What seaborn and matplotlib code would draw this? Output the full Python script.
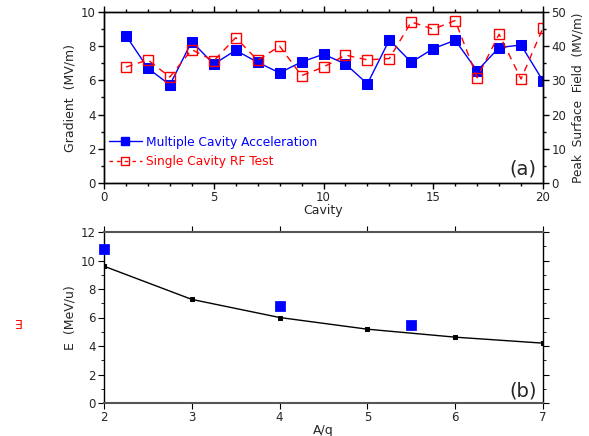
import numpy as np
import pandas as pd
import matplotlib
matplotlib.use("Agg")
import matplotlib.pyplot as plt
import seaborn as sns
from matplotlib.ticker import MultipleLocator
from matplotlib.lines import Line2D

cavity = list(range(1, 21))
gradient_multi = [8.62, 6.71, 5.74, 8.27, 6.95, 7.76, 7.06, 6.44, 7.08, 7.53,
                  6.96, 5.80, 8.37, 7.06, 7.86, 8.35, 6.56, 7.92, 8.07, 5.97]
peak_field_single = [33.9, 36.0, 31.0, 39.0, 35.7, 42.5, 35.9, 40.0, 31.4, 33.9,
                     37.4, 36.0, 36.4, 47.1, 45.0, 47.5, 30.8, 43.5, 30.4, 45.4]

aq_curve = [2, 3, 4, 5, 6, 7]
e_curve = [9.6, 7.27, 6.0, 5.18, 4.62, 4.2]
aq_meas = [2, 4, 5.5]
e_meas = [10.8, 6.8, 5.5]

sns.set_style("ticks")
plt.rcParams['font.family'] = ['DejaVu Sans']
plt.rcParams['font.size'] = 9
plt.rcParams['xtick.labelsize'] = 8.5
plt.rcParams['ytick.labelsize'] = 8.5

fig = plt.figure(figsize=(5.89, 4.36), dpi=100)
L, W, H = 104/589, 439/589, 171/436
ax = fig.add_axes([L, 1-183/436, W, H])
ax2 = ax.twinx()
bx = fig.add_axes([L, 1-403/436, W, H])

df1 = pd.DataFrame({"cavity": cavity, "g": gradient_multi, "p": peak_field_single})
sns.lineplot(data=df1, x="cavity", y="g", ax=ax, color="blue", lw=1,
             marker="s", markersize=7, markeredgecolor="blue", markerfacecolor="blue")
sns.lineplot(data=df1, x="cavity", y="p", ax=ax2, color="red", lw=1,
             marker="s", markersize=7, markeredgecolor="red", markerfacecolor="none",
             markeredgewidth=1, linestyle=(0, (5, 4)))

ax.set_xlim(0, 20)
ax.set_ylim(0, 10)
ax2.set_ylim(0, 50)
ax.xaxis.set_major_locator(MultipleLocator(5))
ax.xaxis.set_minor_locator(MultipleLocator(1))
ax.yaxis.set_major_locator(MultipleLocator(2))
ax.yaxis.set_minor_locator(MultipleLocator(1))
ax2.yaxis.set_major_locator(MultipleLocator(10))
ax2.yaxis.set_minor_locator(MultipleLocator(5))
for a in (ax, ax2):
    a.tick_params(which="both", direction="out", top=True, color="black", width=1, pad=2)
    a.tick_params(which="major", length=4)
    a.tick_params(which="minor", length=2.5)
    for s in a.spines.values():
        s.set_color("black")
        s.set_linewidth(1)
ax.set_xlabel("Cavity", labelpad=0)
ax.set_ylabel("Gradient  (MV/m)", labelpad=3)
ax2.set_ylabel("Peak  Surface  Field  (MV/m)", labelpad=4, fontsize=8.7)
ax.text(0.985, 0.025, "(a)", transform=ax.transAxes, ha="right", va="bottom", fontsize=14)

handles = [Line2D([], [], color="blue", lw=1, marker="s", markersize=6, markerfacecolor="blue"),
           Line2D([], [], color="red", lw=1, linestyle=(0, (2.5, 3)), marker="s", markersize=6,
                  markerfacecolor="none", markeredgecolor="red")]
leg = ax.legend(handles, ["Multiple Cavity Acceleration", "Single Cavity RF Test"],
                loc="lower left", frameon=False, handlelength=2.7, handletextpad=0.3,
                borderaxespad=0.0, labelspacing=0.5, fontsize=8.8,
                bbox_to_anchor=(0.0, 0.06))
for t, c in zip(leg.get_texts(), ["blue", "red"]):
    t.set_color(c)

df2 = pd.DataFrame({"aq": aq_curve, "e": e_curve})
df3 = pd.DataFrame({"aq": aq_meas, "e": e_meas})
sns.lineplot(data=df2, x="aq", y="e", ax=bx, color="black", lw=1, marker="s",
             markersize=2.5, markeredgecolor="black")
sns.scatterplot(data=df3, x="aq", y="e", ax=bx, color="blue", marker="s", s=45,
                edgecolor="blue", zorder=5, clip_on=False)
bx.set_xlim(2, 7)
bx.set_ylim(0, 12)
bx.xaxis.set_major_locator(MultipleLocator(1))
bx.yaxis.set_major_locator(MultipleLocator(2))
bx.yaxis.set_minor_locator(MultipleLocator(1))
bx.tick_params(which="both", direction="out", top=True, right=True, color="black", pad=2)
bx.tick_params(which="major", length=4)
bx.tick_params(which="minor", length=2.5)
for s in ["left", "right"]:
    bx.spines[s].set_color("black")
    bx.spines[s].set_linewidth(1)
for s in ["top", "bottom"]:
    bx.spines[s].set_color("#555555")
    bx.spines[s].set_linewidth(1.5)
bx.set_xlabel("A/q", labelpad=0)
bx.set_ylabel("E  (MeV/u)", labelpad=3)
bx.text(0.985, 0.015, "(b)", transform=bx.transAxes, ha="right", va="bottom", fontsize=14)

fig.text(17/589, 1-321/436, "E", color="red", fontsize=9, rotation=180,
         ha="center", va="center")

fig.savefig("out.png", dpi=100)
